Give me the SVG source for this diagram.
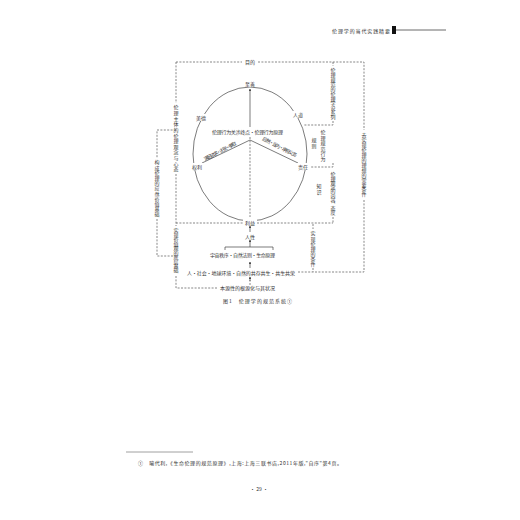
<svg xmlns="http://www.w3.org/2000/svg" width="520" height="520" viewBox="0 0 520 520">
<defs>
<style>
.t{font-family:"Noto Sans CJK SC","Noto Sans",sans-serif;fill:#333;font-size:5px}
.v{font-family:"Noto Sans CJK SC","Noto Sans",sans-serif;fill:#333;font-size:5px;writing-mode:tb;text-orientation:upright;glyph-orientation-vertical:0}
.d{fill:none;stroke:#555;stroke-width:0.7;stroke-dasharray:2 1.4}
.s{fill:none;stroke:#444;stroke-width:0.7}
.bg{fill:#fff}
</style>
<marker id="ah" viewBox="0 0 6 6" refX="5" refY="3" markerWidth="4" markerHeight="4" orient="auto"><path d="M0,0 L6,3 L0,6 z" fill="#444"/></marker>
</defs>
<rect width="520" height="520" fill="#fff"/>
<g id="header">
<text class="t" x="332" y="33" font-size="6" textLength="58">伦理学的当代实践精要</text>
<rect x="392" y="26" width="4" height="8" fill="#111"/>
<line x1="396" y1="30" x2="446" y2="30" stroke="#444" stroke-width="0.8"/>
</g>
<g id="connectors">
<path class="d" d="M176 62 H242 M258 62 H364 V130 M364 200 V272 H298"/>
<path class="d" d="M176 62 V103 M176 174 V226 M176 276 V288 H218"/>
<path class="d" d="M176 223 H243 M257 223 H333"/>
<path class="d" d="M176 130 H157 V158 M157 219 V256 H176"/>
<path class="d" d="M333 62 V66 M333 121 V125 H303 M333 163 V167 H306 M333 217 V223 M313 224 V229 M313 268 V272"/>
<ellipse cx="250" cy="154" rx="57" ry="67" class="s" stroke-width="0.8"/>
<line class="s" x1="250" y1="127" x2="250" y2="89" marker-end="url(#ah)"/>
<line class="s" x1="250" y1="140" x2="202" y2="163"/>
<line class="s" x1="250" y1="140" x2="298" y2="163"/>
<path class="d" d="M250 137 V217"/>
<line class="s" x1="250" y1="232" x2="250" y2="226" marker-end="url(#ah)"/>
<path class="s" d="M225 250 V247 H273 V250"/>
<line class="s" x1="250" y1="247" x2="250" y2="240" marker-end="url(#ah)"/>
<line class="s" x1="250" y1="268" x2="250" y2="262" marker-end="url(#ah)"/>
<path class="d" d="M250 285 V280"/>
<line class="s" x1="250" y1="281" x2="250" y2="277" marker-end="url(#ah)"/>
</g>
<g id="n-mudi"><rect class="bg" x="243" y="58" width="14" height="8"/><text class="t" x="250" y="64" text-anchor="middle">目的</text></g>
<g id="n-zhishan"><rect class="bg" x="243" y="80" width="14" height="7"/><text class="t" x="250" y="86" text-anchor="middle">至善</text></g>
<g id="n-meide"><rect class="bg" x="195" y="114" width="13" height="7"/><text class="t" x="201" y="120" text-anchor="middle">美德</text></g>
<g id="n-rendao"><rect class="bg" x="292" y="111" width="13" height="7"/><text class="t" x="298" y="117" text-anchor="middle">人道</text></g>
<g id="n-quanli"><rect class="bg" x="191" y="163" width="13" height="7"/><text class="t" x="197" y="169" text-anchor="middle">权利</text></g>
<g id="n-zeren"><rect class="bg" x="297" y="163" width="13" height="7"/><text class="t" x="303" y="169" text-anchor="middle">责任</text></g>
<g id="n-liyi"><rect class="bg" x="243" y="219" width="14" height="7"/><text class="t" x="250" y="225" text-anchor="middle">利益</text></g>
<g id="n-center"><rect class="bg" x="211" y="128" width="74" height="7"/><text class="t" x="212" y="134" textLength="71">伦理行为关涉终点·伦理行为原理</text></g>
<g id="n-diag-left"><text class="t" x="0" y="0" transform="translate(205,161) rotate(-27)" textLength="36">满足欲求·主张·争取</text></g>
<g id="n-diag-right"><text class="t" x="0" y="0" transform="translate(262,140) rotate(27)" textLength="38">应然·当为·承担义务</text></g>
<g id="n-renxing"><text class="t" x="250" y="239" text-anchor="middle">人性</text></g>
<g id="n-yuzhou"><text class="t" x="210" y="257" textLength="65">宇宙秩序·自然法则·生命原理</text></g>
<g id="n-shehui"><text class="t" x="187" y="275" textLength="108">人·社会·地球环境·自然的共存共生·共生共荣</text></g>
<g id="n-benyuan"><text class="t" x="220" y="290" textLength="55">本源性的根源化与其状况</text></g>
<g id="n-left1"><text class="v" x="176" y="105" textLength="67">伦理主体的伦理观念与心态</text></g>
<g id="n-left2"><text class="v" x="157" y="160" textLength="57">构成伦理的应然价值基础</text></g>
<g id="n-left3"><text class="v" x="176" y="228" textLength="45">实现价值观的底层基础</text></g>
<g id="n-right-outer"><text class="v" x="364" y="133" textLength="64">去实现伦理的理想的需要条件</text></g>
<g id="n-rA"><text class="v" x="333" y="68" textLength="52">伦理规范的伦理学说系列</text></g>
<g id="n-rB"><text class="v" x="323" y="130" textLength="32">伦理规范行为</text><text class="v" x="314" y="138" textLength="11">规则</text></g>
<g id="n-rC"><text class="v" x="333" y="172" textLength="43">伦理观念的内容、态度</text><text class="v" x="319" y="184" textLength="11">知识</text></g>
<g id="n-rD"><text class="v" x="313" y="231" textLength="36">实现伦理的条件</text></g>
<g id="caption"><text class="t" x="223" y="303" font-size="6" textLength="69">图1　伦理学的规范系统①</text></g>
<g id="footnote">
<line x1="126" y1="452" x2="193" y2="452" stroke="#888" stroke-width="0.8"/>
<text class="t" x="138" y="465" textLength="204">①　喻代利,《生命伦理的规范原理》,上海:上海三联书店,2011年版,"自序"第4页。</text>
</g>
<g id="pagenum"><text class="t" x="259" y="491" font-size="7" text-anchor="middle">· 29 ·</text></g>
</svg>
